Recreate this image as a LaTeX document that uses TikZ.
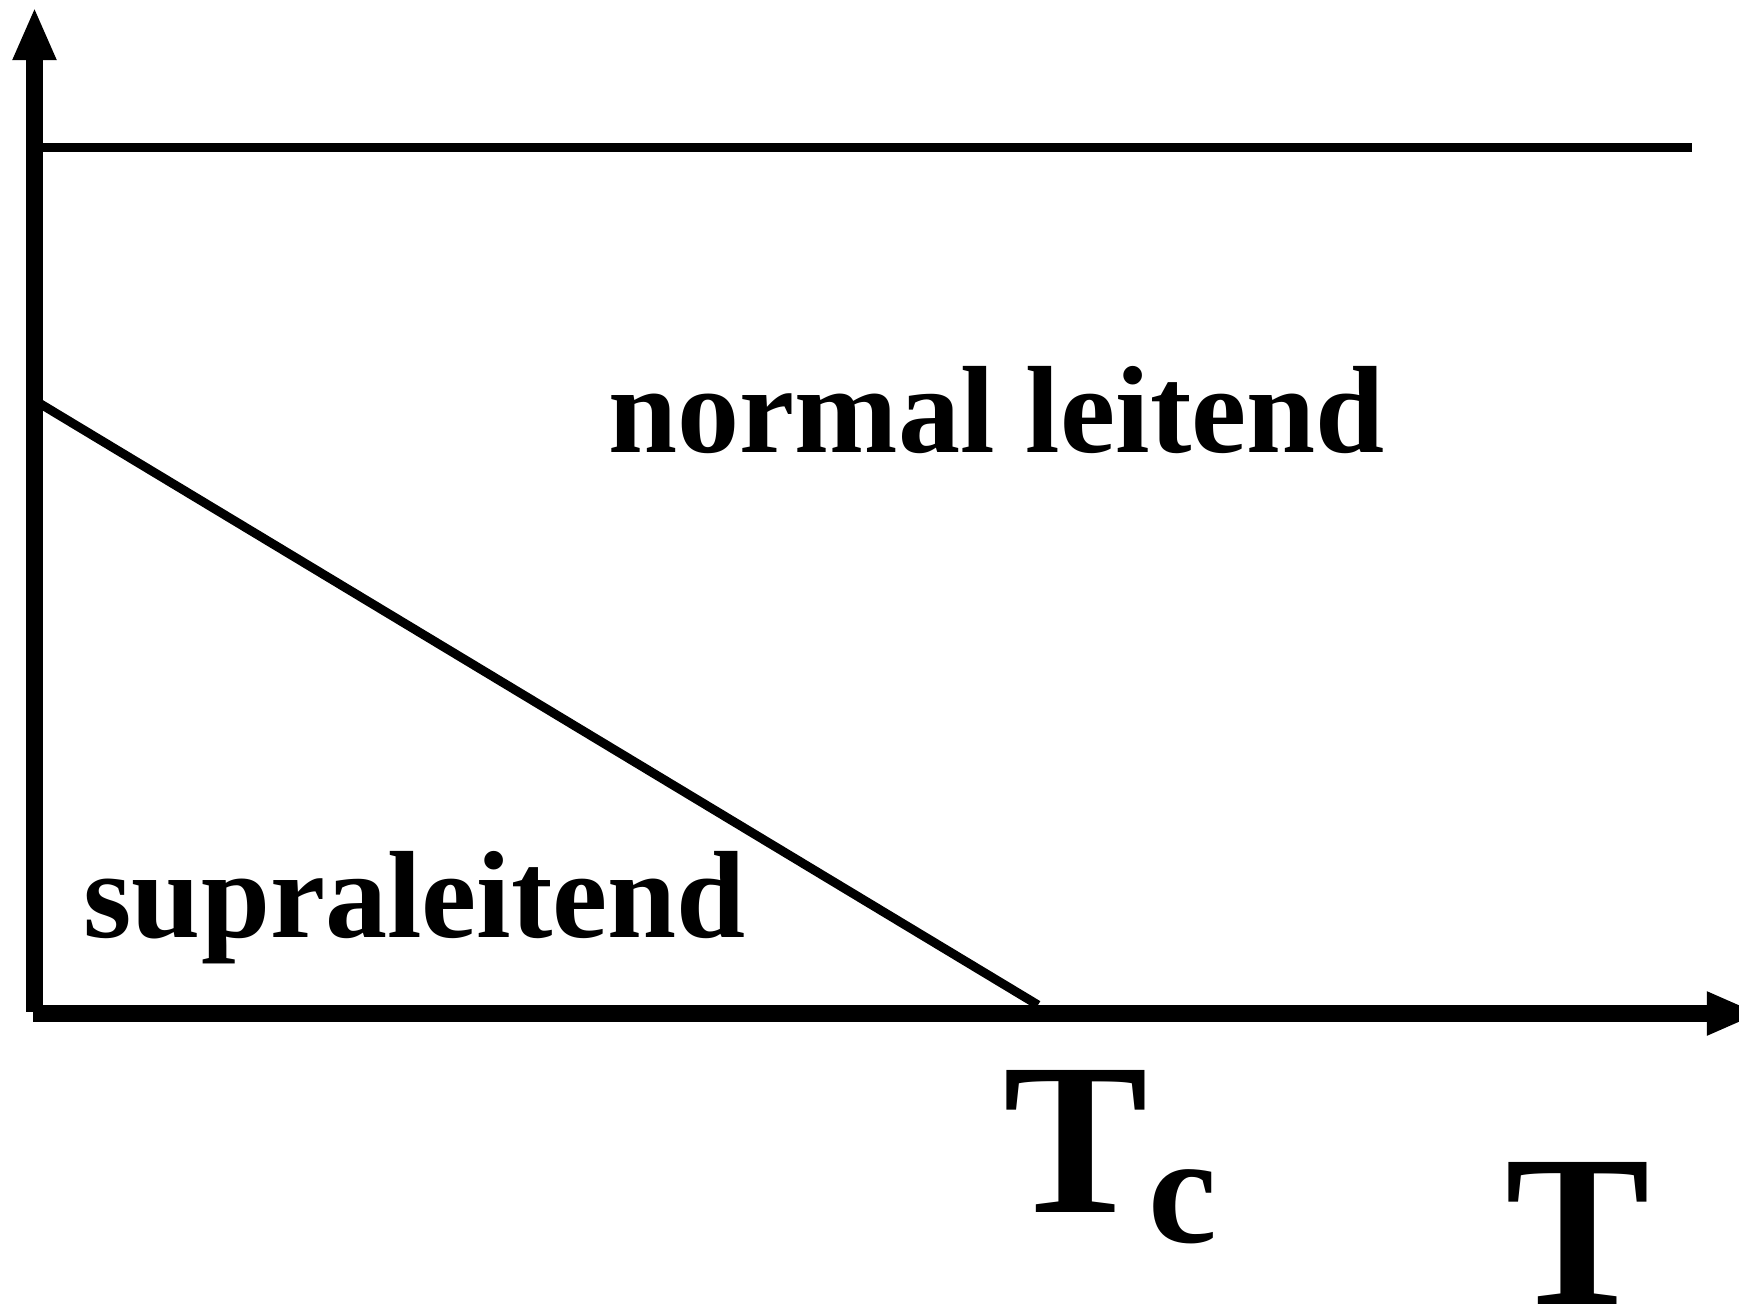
\documentclass[tikz,border=0pt]{standalone}
\usepackage{fontspec}
\setmainfont{Liberation Serif}[BoldFont={Liberation Serif Bold}]
\usetikzlibrary{arrows.meta}

\begin{document}
\begin{tikzpicture}[
    x=0.01cm, y=-0.01cm,
    axis/.style={-{Triangle[length=0.53cm, width=0.40cm]}, line width=0.17cm},
    phaseline/.style={line width=0.09cm},
    region/.style={inner sep=0pt, anchor=base west,
                   font=\fontsize{35.3}{42}\selectfont\bfseries},
    bigsym/.style={inner sep=0pt, anchor=base west,
                   font=\fontsize{61.7}{70}\selectfont\bfseries}
  ]
    \useasboundingbox (0,0) rectangle (1739,1308);

    % axes
    \coordinate (origin) at (34.5,1013.5);
    \coordinate (ytip) at (34.5,7);
    \coordinate (xtip) at (1760,1013.5);
    \draw[axis] ([yshift=0.5]origin) -- (ytip);
    \draw[axis] ([xshift=-0.5]origin) -- (xtip);

    % phase boundaries
    \coordinate (hstart) at (34.5,147);
    \coordinate (hend) at (1692,147);
    \coordinate (dstart) at (39,403);
    \coordinate (tcpoint) at (1038,1005);
    \draw[phaseline] (hstart) -- (hend);
    \draw[phaseline] (dstart) -- (tcpoint);

    \node[region] (normal) at (608,452) {normal leitend};
    \node[region] (supra) at (83,937) {supraleitend};

    \node[bigsym] (tc) at (1003,1212)
      {T\raisebox{-0.30cm}{\fontsize{44}{50}\selectfont c}};
    \node[bigsym] (tlabel) at (1505,1304) {T};
  \end{tikzpicture}
\end{document}
